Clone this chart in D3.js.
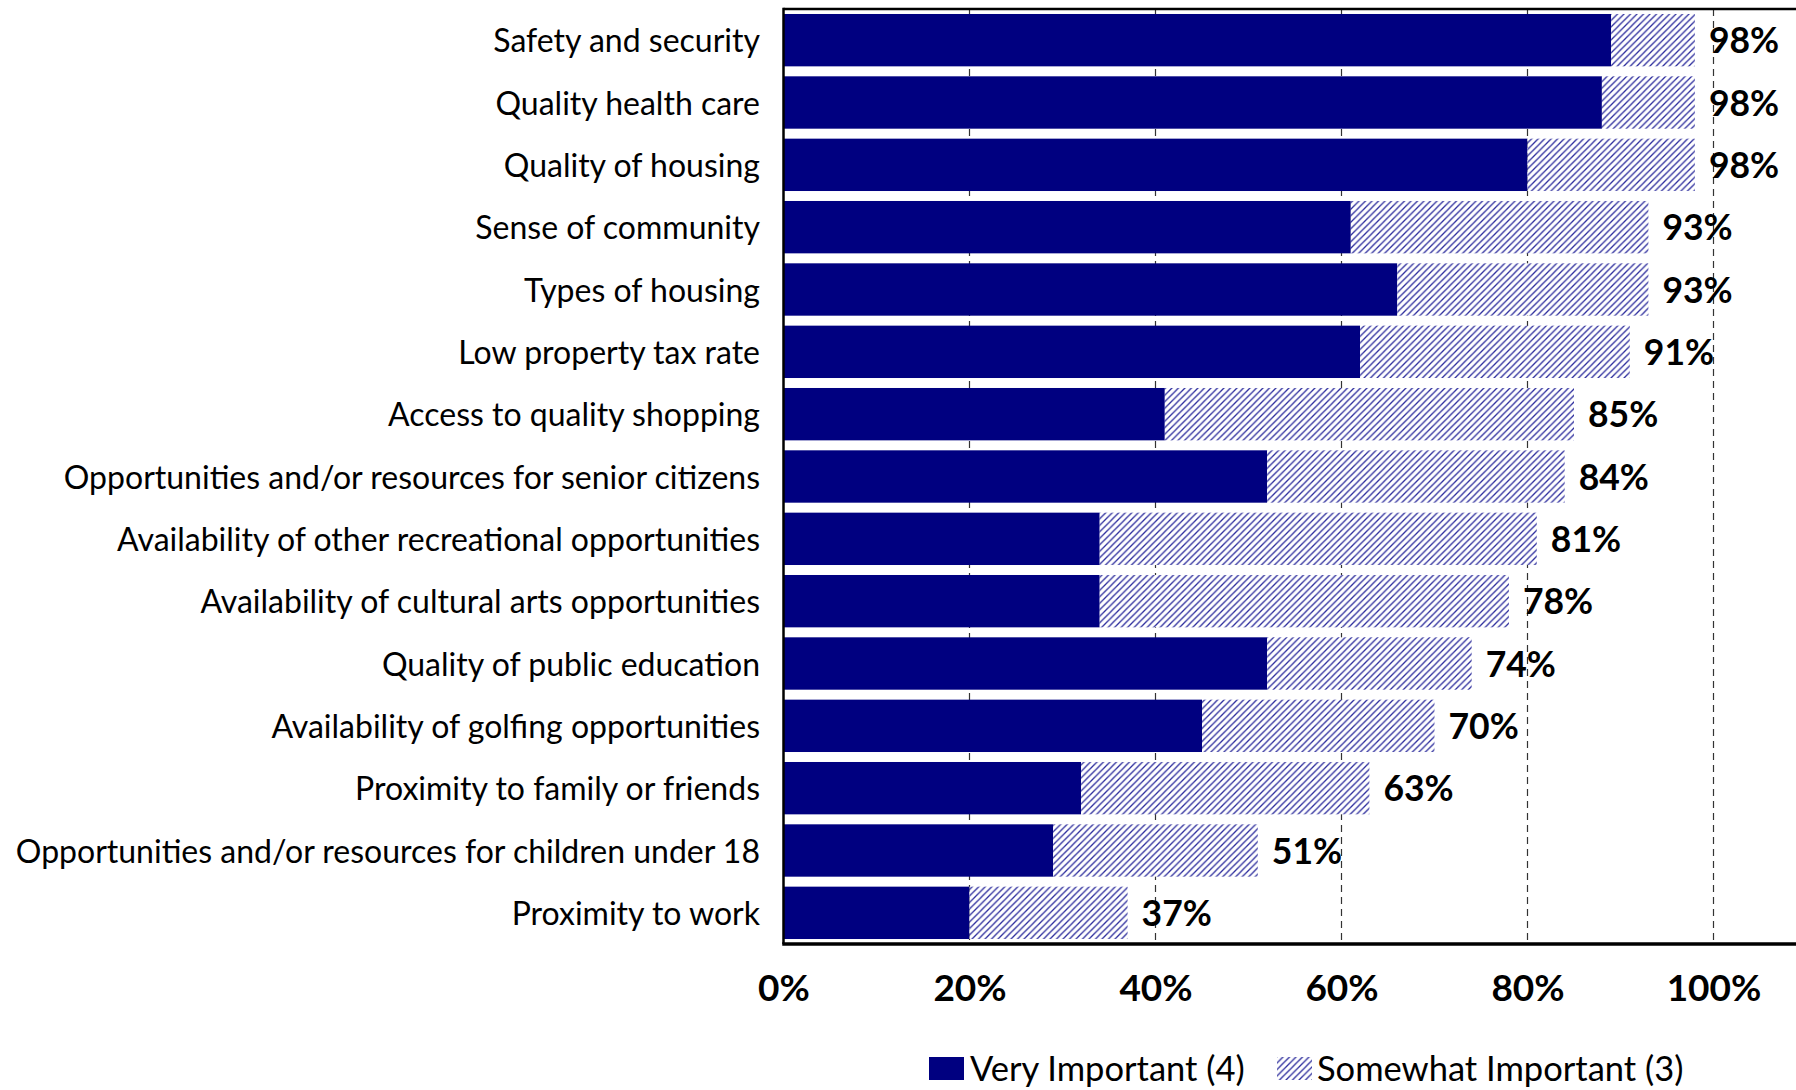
<!DOCTYPE html>
<html>
<head>
<meta charset="utf-8">
<script src="https://cdn.jsdelivr.net/npm/d3@7"></script>
<style>
  html, body { margin: 0; padding: 0; background: #ffffff; }
  svg { display: block; }
  text { font-family: Lato, "Open Sans", sans-serif; fill: #000; }
</style>
</head>
<body>
<svg id="chart" width="1796" height="1090"></svg>
<script>
// Importance ratings, share of respondents (percent)
const categories = [
  "Safety and security",
  "Quality health care",
  "Quality of housing",
  "Sense of community",
  "Types of housing",
  "Low property tax rate",
  "Access to quality shopping",
  "Opportunities and/or resources for senior citizens",
  "Availability of other recreational opportunities",
  "Availability of cultural arts opportunities",
  "Quality of public education",
  "Availability of golfing opportunities",
  "Proximity to family or friends",
  "Opportunities and/or resources for children under 18",
  "Proximity to work"
];
const veryImportant     = [89, 88, 80, 61, 66, 62, 41, 52, 34, 34, 52, 45, 32, 29, 20];
const somewhatImportant = [ 9, 10, 18, 32, 27, 29, 44, 32, 47, 44, 22, 25, 31, 22, 17];
const xTicks = [0, 20, 40, 60, 80, 100];
const seriesNames = ["Very Important (4)", "Somewhat Important (3)"];

const W = 1796, H = 1090;
const plot = { left: 783.5, right: 1713.5, top: 9, bottom: 944 };

const svg = d3.select("#chart");
const navy = "#000080";

// hatch fill for the second segment
const defs = svg.append("defs");
const pat = defs.append("pattern")
  .attr("id", "hatch")
  .attr("patternUnits", "userSpaceOnUse")
  .attr("width", 6.5).attr("height", 6.5);
pat.append("rect").attr("width", 6.5).attr("height", 6.5).attr("fill", "#fff");
pat.append("path")
  .attr("d", "M-1,7.5 L7.5,-1 M-1,1 L1,-1 M5.5,7.5 L7.5,5.5")
  .attr("stroke", "#2b2b9c").attr("stroke-width", 1.3).attr("fill", "none");

const x = d3.scaleLinear().domain([0, 100]).range([plot.left, plot.right]);
const y = d3.scaleBand().domain(categories).range([plot.top, plot.bottom])
  .paddingInner(0.16).paddingOuter(0.08);

const rows = categories.map((c, i) => ({
  cat: c, very: veryImportant[i], some: somewhatImportant[i],
  total: veryImportant[i] + somewhatImportant[i]
}));

// dashed vertical gridlines
svg.append("g").selectAll("line")
  .data(xTicks.filter(t => t > 0))
  .join("line")
  .attr("x1", d => x(d)).attr("x2", d => x(d))
  .attr("y1", plot.top).attr("y2", plot.bottom)
  .attr("stroke", "#333").attr("stroke-width", 1.2)
  .attr("stroke-dasharray", "7,5");

// stacked bars
const bars = svg.append("g");
bars.selectAll("rect.very").data(rows).join("rect")
  .attr("class", "very")
  .attr("x", x(0)).attr("y", d => y(d.cat))
  .attr("width", d => x(d.very) - x(0))
  .attr("height", y.bandwidth())
  .attr("fill", navy);
bars.selectAll("rect.some").data(rows).join("rect")
  .attr("class", "some")
  .attr("x", d => x(d.very)).attr("y", d => y(d.cat))
  .attr("width", d => x(d.total) - x(d.very))
  .attr("height", y.bandwidth())
  .attr("fill", "url(#hatch)");

// value labels
svg.append("g").selectAll("text").data(rows).join("text")
  .attr("x", d => x(d.total) + 14)
  .attr("y", d => y(d.cat) + y.bandwidth() / 2 + 13)
  .attr("font-size", 35.5).attr("font-weight", 700)
  .text(d => d.total + "%");

// category labels
svg.append("g").selectAll("text").data(rows).join("text")
  .attr("x", 760)
  .attr("y", d => y(d.cat) + y.bandwidth() / 2 + 12)
  .attr("text-anchor", "end")
  .attr("font-size", 32)
  .text(d => d.cat);

// plot frame: top, left, bottom
svg.append("line").attr("x1", plot.left).attr("x2", W)
  .attr("y1", plot.top).attr("y2", plot.top)
  .attr("stroke", "#000").attr("stroke-width", 2.5);
svg.append("line").attr("x1", plot.left).attr("x2", plot.left)
  .attr("y1", plot.top - 1.25).attr("y2", plot.bottom)
  .attr("stroke", "#000").attr("stroke-width", 2.5);

// x axis
const xAxis = d3.axisBottom(x).tickValues(xTicks).tickSize(0).tickPadding(0)
  .tickFormat(d => d + "%");
const gx = svg.append("g").attr("transform", `translate(0,${plot.bottom})`).call(xAxis);
gx.select(".domain").remove();
gx.selectAll("text")
  .attr("dy", null).attr("y", 57)
  .attr("font-family", "Lato, sans-serif")
  .attr("font-size", 37).attr("font-weight", 700).attr("fill", "#000");
svg.append("line").attr("x1", plot.left - 1.25).attr("x2", W)
  .attr("y1", plot.bottom).attr("y2", plot.bottom)
  .attr("stroke", "#000").attr("stroke-width", 3.5);

// legend
const lg = svg.append("g");
lg.append("rect").attr("x", 929).attr("y", 1057).attr("width", 35).attr("height", 23).attr("fill", navy);
lg.append("text").attr("x", 970).attr("y", 1081).attr("font-size", 34.5).text(seriesNames[0]);
lg.append("rect").attr("x", 1277).attr("y", 1057).attr("width", 35).attr("height", 23).attr("fill", "url(#hatch)");
lg.append("text").attr("x", 1317).attr("y", 1081).attr("font-size", 34.5).text(seriesNames[1]);
</script>
</body>
</html>
